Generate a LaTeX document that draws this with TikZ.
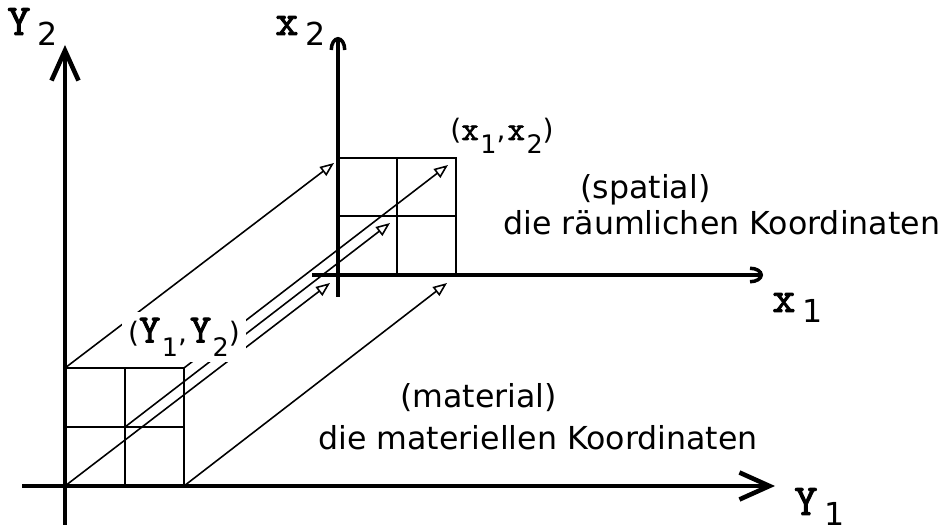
\documentclass[tikz,border=0pt]{standalone}
\usepackage{fontspec}
\setsansfont{DejaVu Sans}
\newfontfamily\slabfont[FakeBold=2]{lmmono10-regular.otf}
\usetikzlibrary{arrows.meta}
\newcommand{\axname}[2]{{\slabfont\fontsize{25}{27}\selectfont #1}\kern1.4mm\raisebox{-2.2mm}{\sffamily\fontsize{18}{20}\selectfont #2}}
\newcommand{\ptname}[3]{{\slabfont\fontsize{#3}{#3}\selectfont #1}\kern0.3mm\raisebox{-2.7mm}{\sffamily\fontsize{14.5}{16}\selectfont #2}}
\newcommand{\pbr}[1]{{\sffamily\fontsize{16}{18}\selectfont #1}}
\begin{document}
\begin{tikzpicture}[x=0.2mm, y=-0.2mm,
    bigaxis/.style={line width=2.6pt, -{Straight Barb[length=6mm,width=5.4mm]}},
    smallaxis/.style={line width=2pt, -{Arc Barb[length=2.6mm,width=3.4mm]}},
    cell/.style={line width=1.1pt},
    map/.style={line width=0.9pt, -{Triangle[open,length=2.8mm,width=2.2mm]}},
    caption/.style={font=\sffamily\fontsize{18}{21}\selectfont, inner sep=0pt, anchor=base west},
    axlabel/.style={inner sep=0pt, anchor=base west}]
  % Page frame (pixel units)
  \useasboundingbox (0,0) rectangle (949,531);
  % Grid points, material (m) and spatial (s)
  \foreach \i/\x in {0/65,1/125,2/184} {
    \foreach \j/\y in {0/486,1/427,2/368} {
      \coordinate (m\i\j) at (\x,\y);
    }
  }
  \foreach \i/\x in {0/338,1/397,2/456} {
    \foreach \j/\y in {0/275,1/216,2/158} {
      \coordinate (s\i\j) at (\x,\y);
    }
  }
  % Where the mapping arrows stop
  \coordinate (t02) at (334,163);
  \coordinate (t20) at (447,283);
  \coordinate (t00) at (330,283);
  \coordinate (t11) at (390,223);
  \coordinate (t22) at (448,165);
  % Axis ends
  \coordinate (Y1a) at (22,486);  \coordinate (Y1b) at (775,486);
  \coordinate (Y2a) at (65,525);  \coordinate (Y2b) at (65,45);
  \coordinate (x1a) at (312,275); \coordinate (x1b) at (763,275);
  \coordinate (x2a) at (338,297); \coordinate (x2b) at (338,37);
  % Cells
  \draw[cell] (m00) rectangle (m22);
  \draw[cell] (m10) -- (m12);
  \draw[cell] (m01) -- (m21);
  \draw[cell] (s00) rectangle (s22);
  \draw[cell] (s10) -- (s12);
  \draw[cell] (s01) -- (s21);
  % Axes
  \draw[bigaxis] (Y1a) -- (Y1b);
  \draw[bigaxis] (Y2a) -- (Y2b);
  \draw[smallaxis] (x1a) -- (x1b);
  \draw[smallaxis] (x2a) -- (x2b);
  % Mapping arrows
  \draw[map] (m02) -- (t02);
  \draw[map] (m20) -- (t20);
  \draw[map] (m00) -- (t00);
  \draw[map] (m11) -- (t11);
  \draw[map] (m22) -- (t22);
  % Point labels (the first one masks the arrows)
  \node[fill=white, inner sep=0pt, minimum width=24.8mm, minimum height=10mm] (Ypair) at (184,337)
        {\pbr{(}\ptname{Y}{1}{23}\pbr{,}\kern0.6mm\ptname{Y}{2}{23}\pbr{)}};
  \node[axlabel] (xpair) at (450,140)
        {\pbr{(}\ptname{x}{1}{19}\pbr{,}\kern0.4mm\ptname{x}{2}{19}\pbr{)}};
  % Axis labels
  \node[axlabel] (Y2lbl) at (7,35) {\axname{Y}{2}};
  \node[axlabel] (Y1lbl) at (794,515) {\axname{Y}{1}};
  \node[axlabel] (x2lbl) at (275,35) {\axname{x}{2}};
  \node[axlabel] (x1lbl) at (772,312) {\axname{x}{1}};
  % Captions
  \node[caption] (spatialtag) at (580,199) {(spatial)};
  \node[caption] (spatialtxt) at (503,235) {die räumlichen Koordinaten};
  \node[caption] (materialtag) at (400,408) {(material)};
  \node[caption] (materialtxt) at (318,450) {die materiellen Koordinaten};
\end{tikzpicture}
\end{document}
